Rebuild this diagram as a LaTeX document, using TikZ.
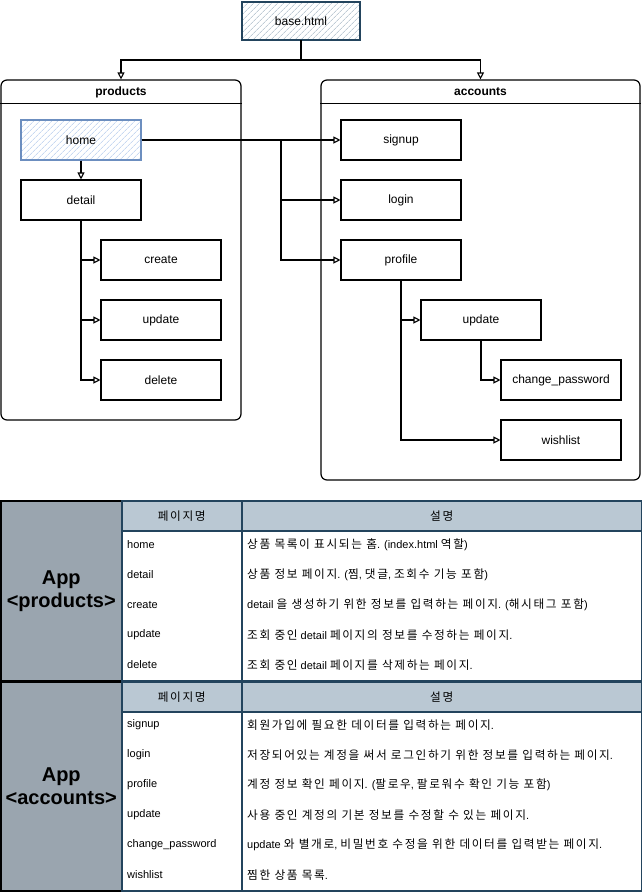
\documentclass[tikz,border=0pt]{standalone}
\usepackage{fontspec}
\setmainfont{Liberation Sans}
\newfontfamily\krf[Scale=1.06,LetterSpace=14]{Noto Sans CJK KR}
\usetikzlibrary{arrows.meta,patterns.meta}
\definecolor{tblborder}{HTML}{23445D}
\definecolor{tblhead}{HTML}{BAC8D3}
\definecolor{tblleft}{HTML}{9AA5AF}
\definecolor{homeborder}{HTML}{6C8EBF}
\definecolor{homehatch}{HTML}{A9C4EB}
\definecolor{basehatch}{HTML}{9DB0C0}
\begin{document}
\begin{tikzpicture}[x=1pt,y=-1pt,
  box/.style={draw=black, line width=1.1pt, minimum width=120pt, minimum height=40pt, inner sep=0pt, font=\fontsize{12}{14}\selectfont, fill=white},
  basebox/.style={box, draw=tblborder, minimum width=118pt, minimum height=38pt, preaction={fill=white}, pattern={Lines[angle=45,distance=4pt,line width=0.6pt]}, pattern color=basehatch},
  homebox/.style={box, draw=homeborder, preaction={fill=white}, pattern={Lines[angle=45,distance=4pt,line width=0.6pt]}, pattern color=homehatch},
  container/.style={draw=black, line width=1.2pt, rounded corners=6pt, inner sep=0pt},
  ctitle/.style={font=\bfseries\fontsize{12}{14}\selectfont, inner sep=0pt},
  arr/.style={line width=1.1pt, -{Triangle[open, length=7pt, width=7pt]}},
  cell/.style={draw=tblborder, line width=1.5pt, anchor=north west, inner sep=0pt},
  rowtxt/.style={anchor=west, inner sep=0pt, font=\fontsize{11}{13}\selectfont},
  headtxt/.style={inner sep=0pt, font=\krf\fontsize{11}{13}\selectfont},
  apptxt/.style={align=center, font=\bfseries\fontsize{20}{23}\selectfont}
]
\useasboundingbox (0,0) rectangle (642,892);

% ---------- containers ----------
\node[container, minimum width=240pt, minimum height=340pt] (prod) at (121,250) {};
\node[container, minimum width=319pt, minimum height=400pt] (acc) at (480.5,280) {};
\draw[line width=1.2pt] ([yshift=-24pt]prod.north west) -- ([yshift=-24pt]prod.north east);
\draw[line width=1.2pt] ([yshift=-24pt]acc.north west) -- ([yshift=-24pt]acc.north east);
\node[ctitle] (prodT) at (121,92) {products};
\node[ctitle] (accT) at (480.5,92) {accounts};

% ---------- base ----------
\node[basebox] (base) at (301,21) {base.html};
\coordinate (split) at (301,60);
\draw[arr] (base.south) -- (split) -| (prod.north);
\draw[arr] (split) -| (acc.north);

% ---------- products ----------
\node[homebox] (home) at (81,140) {home};
\node[box] (detail) at (81,200) {detail};
\node[box] (create) at (161,260) {create};
\node[box] (pupdate) at (161,320) {update};
\node[box] (delete) at (161,380) {delete};
\draw[arr] (home) -- (detail);
\draw[arr] (detail.south) |- (create.west);
\draw[arr] (detail.south) |- (pupdate.west);
\draw[arr] (detail.south) |- (delete.west);

% ---------- accounts ----------
\node[box] (signup) at (401,140) {signup};
\node[box] (login) at (401,200) {login};
\node[box] (profile) at (401,260) {profile};
\node[box] (aupdate) at (481,320) {update};
\node[box] (chpw) at (561,380) {change\_password};
\node[box] (wish) at (561,440) {wishlist};
\coordinate (hj) at (281,140);
\draw[arr] (home.east) -- (signup.west);
\draw[arr] (home.east) -- (hj) |- (login.west);
\draw[arr] (home.east) -- (hj) |- (profile.west);
\draw[arr] (profile.south) |- (aupdate.west);
\draw[arr] (aupdate.south) |- (chpw.west);
\draw[arr] (profile.south) |- (wish.west);

% ---------- table: products ----------
\node[cell, draw=black, fill=tblleft, minimum width=121pt, minimum height=180pt] (pleft) at (0,500) {};
\node[apptxt] (papp) at (pleft.center) {App\\<products>};
\node[cell, fill=tblhead, minimum width=120pt, minimum height=30pt] (ph1) at (121,500) {};
\node[cell, fill=tblhead, minimum width=400pt, minimum height=30pt] (ph2) at (241,500) {};
\node[headtxt] (ph1t) at (ph1.center) {페이지명};
\node[headtxt] (ph2t) at (ph2.center) {설명};
\node[cell, fill=white, minimum width=120pt, minimum height=150pt] (pd1) at (121,530) {};
\node[cell, fill=white, minimum width=400pt, minimum height=150pt] (pd2) at (241,530) {};

\node[rowtxt] (pn1) at (127,545) {home};
\node[rowtxt] (pn2) at (127,575) {detail};
\node[rowtxt] (pn3) at (127,605) {create};
\node[rowtxt] (pn4) at (127,635) {update};
\node[rowtxt] (pn5) at (127,665) {delete};
\node[rowtxt] (pe1) at (247,545) {{\krf 상품 목록이 표시되는 홈}. (index.html {\krf 역할})};
\node[rowtxt] (pe2) at (247,575) {{\krf 상품 정보 페이지}. ({\krf 찜}, {\krf 댓글}, {\krf 조회수 기능 포함})};
\node[rowtxt] (pe3) at (247,605) {detail {\krf 을 생성하기 위한 정보를 입력하는 페이지}. ({\krf 해시태그 포함})};
\node[rowtxt] (pe4) at (247,635) {{\krf 조회 중인} detail {\krf 페이지의 정보를 수정하는 페이지}.};
\node[rowtxt] (pe5) at (247,665) {{\krf 조회 중인} detail {\krf 페이지를 삭제하는 페이지}.};

% ---------- table: accounts ----------
\node[cell, draw=black, fill=tblleft, minimum width=121pt, minimum height=209pt] (aleft) at (0,681) {};
\node[apptxt] (aapp) at (aleft.center) {App\\<accounts>};
\node[cell, fill=tblhead, minimum width=120pt, minimum height=30pt] (ah1) at (121,681) {};
\node[cell, fill=tblhead, minimum width=400pt, minimum height=30pt] (ah2) at (241,681) {};
\node[headtxt] (ah1t) at (ah1.center) {페이지명};
\node[headtxt] (ah2t) at (ah2.center) {설명};
\node[cell, fill=white, minimum width=120pt, minimum height=179pt] (ad1) at (121,711) {};
\node[cell, fill=white, minimum width=400pt, minimum height=179pt] (ad2) at (241,711) {};

\node[rowtxt] (an1) at (127,725) {signup};
\node[rowtxt] (an2) at (127,755) {login};
\node[rowtxt] (an3) at (127,785) {profile};
\node[rowtxt] (an4) at (127,815) {update};
\node[rowtxt] (an5) at (127,845) {change\_password};
\node[rowtxt] (an6) at (127,875) {wishlist};
\node[rowtxt] (ae1) at (247,725) {{\krf 회원가입에 필요한 데이터를 입력하는 페이지}.};
\node[rowtxt] (ae2) at (247,755) {{\krf 저장되어있는 계정을 써서 로그인하기 위한 정보를 입력하는 페이지}.};
\node[rowtxt] (ae3) at (247,785) {{\krf 계정 정보 확인 페이지}. ({\krf 팔로우}, {\krf 팔로워수 확인 기능 포함})};
\node[rowtxt] (ae4) at (247,815) {{\krf 사용 중인 계정의 기본 정보를 수정할 수 있는 페이지}.};
\node[rowtxt] (ae5) at (247,845) {update {\krf 와 별개로}, {\krf 비밀번호 수정을 위한 데이터를 입력받는 페이지}.};
\node[rowtxt] (ae6) at (247,875) {{\krf 찜한 상품 목록}.};
\end{tikzpicture}
\end{document}
